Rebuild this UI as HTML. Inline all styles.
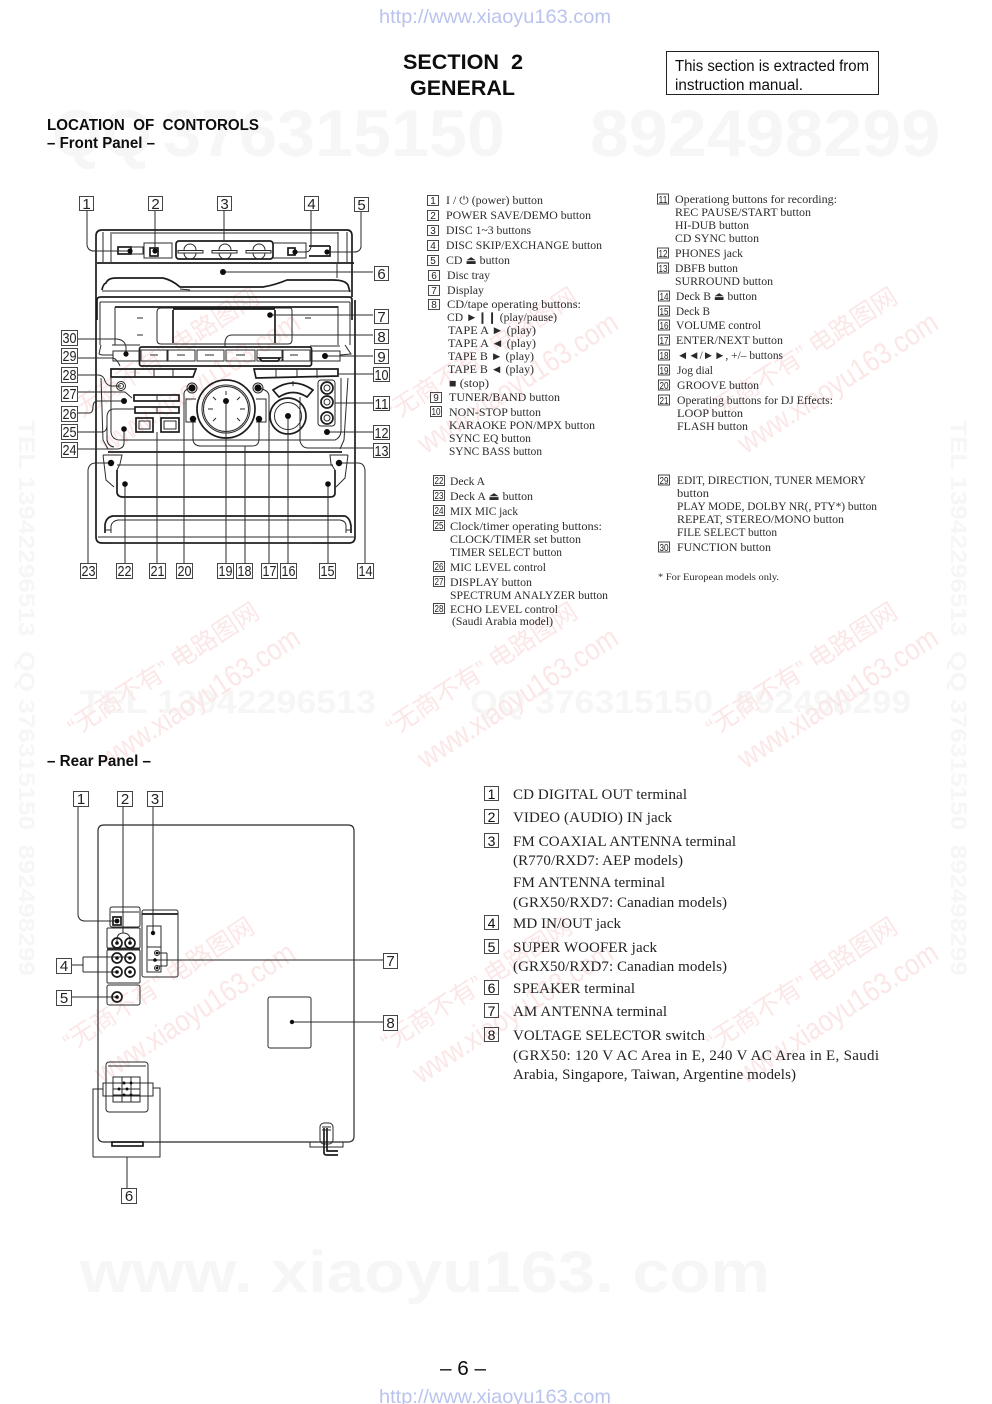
<!DOCTYPE html>
<html lang="en"><head><meta charset="utf-8"><title>Section 2 General</title>
<style>
html,body{margin:0;padding:0;background:#fff;width:992px;height:1404px;overflow:hidden}
svg{display:block}
text{white-space:pre}
.sans{font-family:"Liberation Sans",sans-serif}
.l{font-family:"Liberation Sans",sans-serif;font-size:15px;fill:#222;text-anchor:middle}
.b{fill:#fff;stroke:#444;stroke-width:1}
.d{fill:none;stroke:#2a2a2a;stroke-width:1}
.h{fill:none;stroke:#1a1a1a;stroke-width:1.7}
.k{fill:#111}
.t{font-family:"Liberation Serif","DejaVu Sans",serif;font-size:11.5px;fill:#2c2c2c}
.n{font-family:"Liberation Sans",sans-serif;font-size:10px;fill:#222;text-anchor:middle}
.nb{fill:none;stroke:#333;stroke-width:.9}
.r{font-family:"Liberation Serif",serif;font-size:15px;fill:#222}
.rn{font-family:"Liberation Sans",sans-serif;font-size:14px;fill:#111;text-anchor:middle}
.w1{font-family:"Liberation Sans","Noto Sans CJK SC",sans-serif;font-size:25px;fill:#fce7e7}
.w2{font-family:"Liberation Sans",sans-serif;font-size:30px;fill:#fce7e7}
.g{font-family:"Liberation Sans",sans-serif;font-weight:bold;fill:#f6f6f6}
</style></head><body>
<svg xmlns="http://www.w3.org/2000/svg" width="992" height="1404" viewBox="0 0 992 1404">
<defs><filter id="s" x="-2%" y="-2%" width="104%" height="104%"><feGaussianBlur stdDeviation=".35"/></filter></defs>
<rect width="992" height="1404" fill="#fff"/>

<!-- watermarks -->
<g filter="url(#s)">
<text class="g" x="52" y="156" font-size="66" textLength="100" lengthAdjust="spacingAndGlyphs">QQ</text>
<text class="g" x="163" y="156" font-size="66" textLength="342" lengthAdjust="spacingAndGlyphs">376315150</text>
<text class="g" x="590" y="156" font-size="66" textLength="350" lengthAdjust="spacingAndGlyphs">892498299</text>
<text class="g" x="80" y="713" font-size="32" textLength="296" lengthAdjust="spacingAndGlyphs">TEL 13942296513</text>
<text class="g" x="470" y="713" font-size="32" textLength="243" lengthAdjust="spacingAndGlyphs">QQ 376315150</text>
<text class="g" x="735" y="713" font-size="32" textLength="176" lengthAdjust="spacingAndGlyphs">892498299</text>
<text class="g" x="80" y="1292" font-size="58" textLength="690" lengthAdjust="spacingAndGlyphs">www. xiaoyu163. com</text>
<text class="g" font-size="22" transform="translate(19,420) rotate(90)" textLength="556" lengthAdjust="spacingAndGlyphs">TEL 13942296513  QQ 376315150  892498299</text>
<text class="g" font-size="22" transform="translate(951,420) rotate(90)" textLength="556" lengthAdjust="spacingAndGlyphs">TEL 13942296513  QQ 376315150  892498299</text>

<g transform="translate(75,422) rotate(-33)"><text class="w1" textLength="222" lengthAdjust="spacingAndGlyphs">“无商不有” 电路图网</text><text class="w2" x="10" y="45" textLength="232" lengthAdjust="spacingAndGlyphs">www.xiaoyu163.com</text></g>
<g transform="translate(393,422) rotate(-33)"><text class="w1" textLength="222" lengthAdjust="spacingAndGlyphs">“无商不有” 电路图网</text><text class="w2" x="10" y="45" textLength="232" lengthAdjust="spacingAndGlyphs">www.xiaoyu163.com</text></g>
<g transform="translate(713,422) rotate(-33)"><text class="w1" textLength="222" lengthAdjust="spacingAndGlyphs">“无商不有” 电路图网</text><text class="w2" x="10" y="45" textLength="232" lengthAdjust="spacingAndGlyphs">www.xiaoyu163.com</text></g>
<g transform="translate(75,737) rotate(-33)"><text class="w1" textLength="222" lengthAdjust="spacingAndGlyphs">“无商不有” 电路图网</text><text class="w2" x="10" y="45" textLength="232" lengthAdjust="spacingAndGlyphs">www.xiaoyu163.com</text></g>
<g transform="translate(393,737) rotate(-33)"><text class="w1" textLength="222" lengthAdjust="spacingAndGlyphs">“无商不有” 电路图网</text><text class="w2" x="10" y="45" textLength="232" lengthAdjust="spacingAndGlyphs">www.xiaoyu163.com</text></g>
<g transform="translate(713,737) rotate(-33)"><text class="w1" textLength="222" lengthAdjust="spacingAndGlyphs">“无商不有” 电路图网</text><text class="w2" x="10" y="45" textLength="232" lengthAdjust="spacingAndGlyphs">www.xiaoyu163.com</text></g>
<g transform="translate(70,1052) rotate(-33)"><text class="w1" textLength="222" lengthAdjust="spacingAndGlyphs">“无商不有” 电路图网</text><text class="w2" x="10" y="45" textLength="232" lengthAdjust="spacingAndGlyphs">www.xiaoyu163.com</text></g>
<g transform="translate(388,1052) rotate(-33)"><text class="w1" textLength="222" lengthAdjust="spacingAndGlyphs">“无商不有” 电路图网</text><text class="w2" x="10" y="45" textLength="232" lengthAdjust="spacingAndGlyphs">www.xiaoyu163.com</text></g>
<g transform="translate(713,1052) rotate(-33)"><text class="w1" textLength="222" lengthAdjust="spacingAndGlyphs">“无商不有” 电路图网</text><text class="w2" x="10" y="45" textLength="232" lengthAdjust="spacingAndGlyphs">www.xiaoyu163.com</text></g>
</g>

<!-- header -->
<text class="sans" x="379" y="23" font-size="19" fill="#b9c3ee" textLength="232" lengthAdjust="spacingAndGlyphs">http://www.xiaoyu163.com</text>
<text class="sans" x="379" y="1403" font-size="19" fill="#b9c3ee" textLength="232" lengthAdjust="spacingAndGlyphs">http://www.xiaoyu163.com</text>
<g filter="url(#s)">
<text class="sans" x="403" y="69" font-size="21" font-weight="bold" fill="#111" textLength="120" lengthAdjust="spacingAndGlyphs">SECTION  2</text>
<text class="sans" x="410" y="95" font-size="21" font-weight="bold" fill="#111" textLength="105" lengthAdjust="spacingAndGlyphs">GENERAL</text>
<rect x="666.5" y="51.5" width="212" height="43" fill="none" stroke="#222"/>
<text class="sans" x="675" y="71" font-size="15.5" fill="#111" textLength="194" lengthAdjust="spacingAndGlyphs">This section is extracted from</text>
<text class="sans" x="675" y="90" font-size="15.5" fill="#111" textLength="128" lengthAdjust="spacingAndGlyphs">instruction manual.</text>
<text class="sans" x="47" y="130" font-size="15.5" font-weight="bold" fill="#111" textLength="212" lengthAdjust="spacingAndGlyphs">LOCATION  OF  CONTOROLS</text>
<text class="sans" x="47" y="148" font-size="15.5" font-weight="bold" fill="#111" textLength="108" lengthAdjust="spacingAndGlyphs">– Front Panel –</text>
<text class="sans" x="47" y="766" font-size="15.5" font-weight="bold" fill="#111" textLength="104" lengthAdjust="spacingAndGlyphs">– Rear Panel –</text>
<text class="sans" x="440" y="1375" font-size="20" fill="#111" textLength="46" lengthAdjust="spacingAndGlyphs">– 6 –</text>
</g>

<!-- FRONT PANEL device -->
<g filter="url(#s)">
<g class="d">
<path class="h" d="M96,300V236Q96,230 102,230H347Q352,230 352,236V297"/>
<path d="M112,233H338M103,232V262M111,232V262M338,232V262M347,232V262"/>
<path class="h" d="M97,263H354" stroke-width="2"/>
<path class="h" d="M102,290Q103,284 106,283Q108,278 116,278H163Q172,280 180,287H263Q275,285 287,280H333Q345,280 348,285L350,292"/>
<path d="M102,291H350M337,263V278M180,289L190,290"/>
<rect x="118" y="247" width="13" height="7" class="h"/><path d="M131,247H143V254H131"/>
<path d="M144,243H172V258H144Z"/><rect x="150" y="248" width="8" height="8" class="h"/>
<rect x="176" y="241" width="97" height="18" rx="3" class="h"/>
<path d="M178,250.5H203V253H178ZM212,250.5H237V253H212ZM246,250.5H271V253H246Z"/>
<path d="M184,250A6,6 0 0 1 196,250M184,253A6,6 0 0 0 196,253M219,250A6,6 0 0 1 231,250M219,253A6,6 0 0 0 231,253M253,250A6,6 0 0 1 265,250M253,253A6,6 0 0 0 265,253"/>
<path d="M273,243H306V258H273"/><rect x="288" y="248" width="7" height="7" class="h"/>
<path class="h" d="M309,246H330M309,256H330V246"/>

<path class="h" d="M97,320V300Q97,297 101,297H349Q352,297 352,300V320"/>
<path d="M100,302H350M100,302V345M350,302V345"/>
<path class="h" d="M115,307H338" stroke-width="1.2"/><path d="M115,307V345M338,306V345"/>
<path d="M157,312Q157,308 161,308H290Q292,308 292,311V340Q292,344 288,344H161Q157,344 157,340Z"/>
<path class="h" d="M173,310V343M275,310V343M173,309H275" stroke-width="1.1"/>
<path d="M137,318H143M305,318H311M137,335H143M305,335H311"/>
<path d="M101,345L99,354L102,355H113M112,345H140M310,346H340M345,345L351,354L340,355"/>
<rect x="139.5" y="347" width="172" height="19" rx="2" class="h"/>
<rect x="141" y="350" width="26" height="11"/><rect x="168" y="350" width="27" height="11"/><rect x="197" y="350" width="27" height="11"/><rect x="226" y="350" width="29" height="11"/><rect x="257" y="350" width="25" height="11"/><rect x="283" y="350" width="27" height="11"/>
<path d="M150,355H158M177,355H185M205,355H214M236,355H245M290,355H298"/>
<path class="h" d="M259,358H280L278,361H262Z"/>
<rect x="113" y="351" width="26" height="10"/><rect x="312" y="351" width="28" height="10"/>
<path class="h" d="M111,369H196L193,377H111Z"/><path d="M135,369V377M154,369V377M173,369V377"/>
<path class="h" d="M254,369H338V376L256,378Z"/><path d="M276,369V378M297,369V378M317,369V378"/>

<path class="h" d="M96,300V537Q96,543 102,543H349Q355,543 355,537V300"/>
<path d="M101,378L103,440L108,449M348,378L344,440L340,449"/>
<path d="M111,378V432Q112,440 120,440H335Q340,438 341,432V378"/>
<path class="h" d="M108,452H342"/>

<circle cx="121" cy="386" r="4.5"/><circle cx="121" cy="386" r="2.5"/>
<rect x="134" y="395" width="45" height="6" class="h"/><rect x="135" y="407" width="44" height="6" class="h"/><path d="M157,395V401M157,407V413"/>
<rect x="136" y="418" width="17" height="14" class="h"/><rect x="161" y="418" width="18" height="14" class="h"/>
<path d="M139,421H150V429H139ZM164,421H176V429H164Z"/>
<circle cx="226" cy="409" r="29" class="h"/><circle cx="226" cy="409" r="24"/><circle cx="226" cy="409" r="22.5"/>
<path d="M226,391V395M226,423V427M208,409H213M240,409H245M213,397L216,400M240,397L237,400M213,421L216,418M240,421L237,418"/>
<path d="M196,399H186V422H196M256,399H266V422H256"/>
<circle cx="192" cy="388" r="5"/><circle cx="258" cy="388" r="5"/>
<path class="h" d="M273,390Q293,376 313,390L307,397Q293,388 279,397Z"/><path d="M293,381V386"/>
<circle cx="288" cy="416" r="18" class="h"/><circle cx="288" cy="416" r="13.5"/>
<rect x="318" y="380" width="17" height="46" rx="3"/>
<circle cx="327" cy="388" r="6" class="h"/><circle cx="327" cy="388" r="3"/><circle cx="327" cy="402" r="6" class="h"/><circle cx="327" cy="402" r="3"/><circle cx="327" cy="418" r="6" class="h"/><circle cx="327" cy="418" r="3"/>

<path d="M103,455H122L120,464L117,470M348,455H330L331,464L335,470"/>
<path d="M103,455L106,480L114,487M348,455L345,478L336,487"/>
<path class="h" d="M117,470V493Q118,497 123,497H330Q335,497 335,493V470"/>
<path d="M117,465H333"/>
<path class="h" d="M105,533V525Q106,517 113,516H345Q350,518 351,526V533"/>
<path d="M111,533V526Q112,521 118,520H340Q346,521 346,526V533M98,537H354"/>
<path d="M105,530H111M346,530H351M111,543H312"/>
</g>

<!-- front panel leaders -->
<g class="d">
<path d="M87,211V245Q88,251 94,251H130"/><path d="M155,211V251"/><path d="M224,211V241"/>
<path d="M311,211V247Q310,252 306,252H295"/><path d="M361,212V247Q360,252 354,252H327"/>
<path d="M223,272H373"/><path d="M270,315H373"/>
<path d="M225,347V342Q226,335 232,335H373"/><path d="M325,356H373"/><path d="M338,374H373"/>
<path d="M335,403H373"/><path d="M327,432H373"/><path d="M300,397V441Q302,448 308,448H373"/>
<path d="M77,339H117Q125,340 126,347V354"/><path d="M77,358H113Q117,359 120,366"/>
<path d="M77,375H99Q104,376 105,381Q107,386 112,386H121"/>
<path d="M77,392H125L132,398"/><path d="M77,413H90Q93,412 93,407Q93,401 98,401H124"/>
<path d="M78,432H103Q107,431 107,425V416Q108,409 114,409H135"/>
<path d="M107,425V440Q108,446 114,447"/>
<path d="M77,449H118Q124,448 124,443V429"/>
<path d="M88,563V470Q89,463 96,463H111"/><path d="M365,563V470Q364,463 358,463H339"/>
<path d="M125,484V563"/><path d="M328,484V563"/><path d="M157,432V563"/>
<path d="M184,563V394Q184,389 192,388"/><path d="M226,401V563"/><path d="M245,446V563"/>
<path d="M193,419V440Q194,446 201,446H252Q259,446 259,439V419"/>
<path d="M269,563V396Q269,390 258,388"/><path d="M288,416V563"/>
</g>
<g class="k">
<circle cx="130" cy="251" r="2.6"/><circle cx="155" cy="251" r="2.6"/><circle cx="295" cy="252" r="2.6"/><circle cx="327" cy="252" r="2.6"/><circle cx="223" cy="272" r="3"/><circle cx="270" cy="315" r="2.8"/><circle cx="126" cy="354" r="2.6"/><circle cx="325" cy="356" r="3"/><circle cx="124" cy="401" r="3"/><circle cx="124" cy="429" r="2.8"/><circle cx="192" cy="388" r="3.6"/><circle cx="193" cy="419" r="3.2"/><circle cx="258" cy="388" r="3.6"/><circle cx="259" cy="419" r="3.2"/><circle cx="226" cy="401" r="3"/><circle cx="288" cy="416" r="3"/><circle cx="327" cy="432" r="3"/><circle cx="111" cy="463" r="3.2"/><circle cx="339" cy="463" r="3.2"/><circle cx="125" cy="484" r="2.8"/><circle cx="328" cy="484" r="2.8"/>
</g>

<!-- front labels -->
<g>
<rect class="b" x="79.5" y="196.5" width="14" height="14"/><text class="l" x="86.5" y="209">1</text>
<rect class="b" x="148.5" y="196.5" width="14" height="14"/><text class="l" x="155.5" y="209">2</text>
<rect class="b" x="217.5" y="196.5" width="14" height="14"/><text class="l" x="224.5" y="209">3</text>
<rect class="b" x="304.5" y="196.5" width="14" height="14"/><text class="l" x="311.5" y="209">4</text>
<rect class="b" x="354.5" y="197.5" width="14" height="14"/><text class="l" x="361.5" y="210">5</text>
<rect class="b" x="374.5" y="266.5" width="14" height="14"/><text class="l" x="381.5" y="279">6</text>
<rect class="b" x="374.5" y="309.5" width="14" height="14"/><text class="l" x="381.5" y="322">7</text>
<rect class="b" x="374.5" y="329.5" width="14" height="14"/><text class="l" x="381.5" y="342">8</text>
<rect class="b" x="374.5" y="349.5" width="14" height="14"/><text class="l" x="381.5" y="362">9</text>
<rect class="b" x="373.5" y="367.5" width="16" height="14"/><text class="l" x="381.5" y="380" textLength="14" lengthAdjust="spacingAndGlyphs">10</text>
<rect class="b" x="373.5" y="396.5" width="16" height="14"/><text class="l" x="381.5" y="409" textLength="14" lengthAdjust="spacingAndGlyphs">11</text>
<rect class="b" x="373.5" y="425.5" width="16" height="14"/><text class="l" x="381.5" y="438" textLength="14" lengthAdjust="spacingAndGlyphs">12</text>
<rect class="b" x="373.5" y="443.5" width="16" height="14"/><text class="l" x="381.5" y="456" textLength="14" lengthAdjust="spacingAndGlyphs">13</text>
<rect class="b" x="357.5" y="563.5" width="16" height="15"/><text class="l" x="365.5" y="576" textLength="14" lengthAdjust="spacingAndGlyphs">14</text>
<rect class="b" x="319.5" y="563.5" width="16" height="15"/><text class="l" x="327.5" y="576" textLength="14" lengthAdjust="spacingAndGlyphs">15</text>
<rect class="b" x="280.5" y="563.5" width="16" height="15"/><text class="l" x="288.5" y="576" textLength="14" lengthAdjust="spacingAndGlyphs">16</text>
<rect class="b" x="261.5" y="563.5" width="16" height="15"/><text class="l" x="269.5" y="576" textLength="14" lengthAdjust="spacingAndGlyphs">17</text>
<rect class="b" x="236.5" y="563.5" width="16" height="15"/><text class="l" x="244.5" y="576" textLength="14" lengthAdjust="spacingAndGlyphs">18</text>
<rect class="b" x="217.5" y="563.5" width="16" height="15"/><text class="l" x="225.5" y="576" textLength="14" lengthAdjust="spacingAndGlyphs">19</text>
<rect class="b" x="176.5" y="563.5" width="16" height="15"/><text class="l" x="184.5" y="576" textLength="14" lengthAdjust="spacingAndGlyphs">20</text>
<rect class="b" x="149.5" y="563.5" width="16" height="15"/><text class="l" x="157.5" y="576" textLength="14" lengthAdjust="spacingAndGlyphs">21</text>
<rect class="b" x="116.5" y="563.5" width="16" height="15"/><text class="l" x="124.5" y="576" textLength="14" lengthAdjust="spacingAndGlyphs">22</text>
<rect class="b" x="80.5" y="563.5" width="16" height="15"/><text class="l" x="88.5" y="576" textLength="14" lengthAdjust="spacingAndGlyphs">23</text>
<rect class="b" x="61.5" y="442.5" width="16" height="15"/><text class="l" x="69.5" y="455" textLength="14" lengthAdjust="spacingAndGlyphs">24</text>
<rect class="b" x="61.5" y="424.5" width="16" height="15"/><text class="l" x="69.5" y="437" textLength="14" lengthAdjust="spacingAndGlyphs">25</text>
<rect class="b" x="61.5" y="406.5" width="16" height="15"/><text class="l" x="69.5" y="419" textLength="14" lengthAdjust="spacingAndGlyphs">26</text>
<rect class="b" x="61.5" y="386.5" width="16" height="15"/><text class="l" x="69.5" y="399" textLength="14" lengthAdjust="spacingAndGlyphs">27</text>
<rect class="b" x="61.5" y="367.5" width="16" height="15"/><text class="l" x="69.5" y="380" textLength="14" lengthAdjust="spacingAndGlyphs">28</text>
<rect class="b" x="61.5" y="348.5" width="16" height="15"/><text class="l" x="69.5" y="361" textLength="14" lengthAdjust="spacingAndGlyphs">29</text>
<rect class="b" x="61.5" y="330.5" width="16" height="15"/><text class="l" x="69.5" y="343" textLength="14" lengthAdjust="spacingAndGlyphs">30</text>
</g>
</g>

<!-- front list col 1 -->
<g filter="url(#s)">
<rect class="nb" x="427.5" y="195.5" width="11" height="10"/><text class="n" x="433" y="204">1</text>
<rect class="nb" x="427.5" y="210.5" width="11" height="10"/><text class="n" x="433" y="219">2</text>
<rect class="nb" x="427.5" y="225.5" width="11" height="10"/><text class="n" x="433" y="234">3</text>
<rect class="nb" x="427.5" y="240.5" width="11" height="10"/><text class="n" x="433" y="249">4</text>
<rect class="nb" x="427.5" y="255.5" width="11" height="10"/><text class="n" x="433" y="264">5</text>
<rect class="nb" x="428.5" y="270.5" width="11" height="10"/><text class="n" x="434" y="279">6</text>
<rect class="nb" x="428.5" y="285.5" width="11" height="10"/><text class="n" x="434" y="294">7</text>
<rect class="nb" x="428.5" y="299.5" width="11" height="10"/><text class="n" x="434" y="308">8</text>
<rect class="nb" x="430.5" y="392.5" width="11" height="10"/><text class="n" x="436" y="401">9</text>
<rect class="nb" x="430.5" y="406.5" width="11" height="10"/><text class="n" x="436" y="415" textLength="9" lengthAdjust="spacingAndGlyphs">10</text>
<text class="t" x="446" y="204" textLength="97" lengthAdjust="spacingAndGlyphs">I / ⏻ (power) button</text>
<text class="t" x="446" y="219" textLength="145" lengthAdjust="spacingAndGlyphs">POWER SAVE/DEMO button</text>
<text class="t" x="446" y="234" textLength="85" lengthAdjust="spacingAndGlyphs">DISC 1~3 buttons</text>
<text class="t" x="446" y="249" textLength="156" lengthAdjust="spacingAndGlyphs">DISC SKIP/EXCHANGE button</text>
<text class="t" x="446" y="264" textLength="64" lengthAdjust="spacingAndGlyphs">CD ⏏ button</text>
<text class="t" x="447" y="279" textLength="43" lengthAdjust="spacingAndGlyphs">Disc tray</text>
<text class="t" x="447" y="294" textLength="37" lengthAdjust="spacingAndGlyphs">Display</text>
<text class="t" x="447" y="308" textLength="134" lengthAdjust="spacingAndGlyphs">CD/tape operating buttons:</text>
<text class="t" x="447" y="321" textLength="110" lengthAdjust="spacingAndGlyphs">CD ►❙❙ (play/pause)</text>
<text class="t" x="448" y="334" textLength="88" lengthAdjust="spacingAndGlyphs">TAPE A ► (play)</text>
<text class="t" x="448" y="347" textLength="88" lengthAdjust="spacingAndGlyphs">TAPE A ◄ (play)</text>
<text class="t" x="448" y="360" textLength="86" lengthAdjust="spacingAndGlyphs">TAPE B ► (play)</text>
<text class="t" x="448" y="373" textLength="86" lengthAdjust="spacingAndGlyphs">TAPE B ◄ (play)</text>
<text class="t" x="449" y="387" textLength="40" lengthAdjust="spacingAndGlyphs">■ (stop)</text>
<text class="t" x="449" y="401" textLength="111" lengthAdjust="spacingAndGlyphs">TUNER/BAND button</text>
<text class="t" x="449" y="416" textLength="92" lengthAdjust="spacingAndGlyphs">NON-STOP button</text>
<text class="t" x="449" y="429" textLength="146" lengthAdjust="spacingAndGlyphs">KARAOKE PON/MPX button</text>
<text class="t" x="449" y="442" textLength="82" lengthAdjust="spacingAndGlyphs">SYNC EQ button</text>
<text class="t" x="449" y="455" textLength="93" lengthAdjust="spacingAndGlyphs">SYNC BASS button</text>

<rect class="nb" x="433.5" y="475.5" width="11" height="10"/><text class="n" x="439" y="484" textLength="9" lengthAdjust="spacingAndGlyphs">22</text>
<rect class="nb" x="433.5" y="490.5" width="11" height="10"/><text class="n" x="439" y="499" textLength="9" lengthAdjust="spacingAndGlyphs">23</text>
<rect class="nb" x="433.5" y="505.5" width="11" height="10"/><text class="n" x="439" y="514" textLength="9" lengthAdjust="spacingAndGlyphs">24</text>
<rect class="nb" x="433.5" y="520.5" width="11" height="10"/><text class="n" x="439" y="529" textLength="9" lengthAdjust="spacingAndGlyphs">25</text>
<rect class="nb" x="433.5" y="561.5" width="11" height="10"/><text class="n" x="439" y="570" textLength="9" lengthAdjust="spacingAndGlyphs">26</text>
<rect class="nb" x="433.5" y="576.5" width="11" height="10"/><text class="n" x="439" y="585" textLength="9" lengthAdjust="spacingAndGlyphs">27</text>
<rect class="nb" x="433.5" y="603.5" width="11" height="10"/><text class="n" x="439" y="612" textLength="9" lengthAdjust="spacingAndGlyphs">28</text>
<text class="t" x="450" y="485" textLength="35" lengthAdjust="spacingAndGlyphs">Deck A</text>
<text class="t" x="450" y="500" textLength="83" lengthAdjust="spacingAndGlyphs">Deck A ⏏ button</text>
<text class="t" x="450" y="515" textLength="68" lengthAdjust="spacingAndGlyphs">MIX MIC jack</text>
<text class="t" x="450" y="530" textLength="152" lengthAdjust="spacingAndGlyphs">Clock/timer operating buttons:</text>
<text class="t" x="450" y="543" textLength="131" lengthAdjust="spacingAndGlyphs">CLOCK/TIMER set button</text>
<text class="t" x="450" y="556" textLength="112" lengthAdjust="spacingAndGlyphs">TIMER SELECT button</text>
<text class="t" x="450" y="571" textLength="96" lengthAdjust="spacingAndGlyphs">MIC LEVEL control</text>
<text class="t" x="450" y="586" textLength="82" lengthAdjust="spacingAndGlyphs">DISPLAY button</text>
<text class="t" x="450" y="599" textLength="158" lengthAdjust="spacingAndGlyphs">SPECTRUM ANALYZER button</text>
<text class="t" x="450" y="613" textLength="108" lengthAdjust="spacingAndGlyphs">ECHO LEVEL control</text>
<text class="t" x="452" y="625" textLength="101" lengthAdjust="spacingAndGlyphs">(Saudi Arabia model)</text>

<!-- front list col 2 -->
<rect class="nb" x="657.5" y="194" width="11" height="10"/><text class="n" x="663" y="203" textLength="9" lengthAdjust="spacingAndGlyphs">11</text>
<rect class="nb" x="657.5" y="248" width="11" height="10"/><text class="n" x="663" y="257" textLength="9" lengthAdjust="spacingAndGlyphs">12</text>
<rect class="nb" x="657.5" y="263" width="11" height="10"/><text class="n" x="663" y="272" textLength="9" lengthAdjust="spacingAndGlyphs">13</text>
<rect class="nb" x="658.5" y="291" width="11" height="10"/><text class="n" x="664" y="300" textLength="9" lengthAdjust="spacingAndGlyphs">14</text>
<rect class="nb" x="658.5" y="306" width="11" height="10"/><text class="n" x="664" y="315" textLength="9" lengthAdjust="spacingAndGlyphs">15</text>
<rect class="nb" x="658.5" y="320" width="11" height="10"/><text class="n" x="664" y="329" textLength="9" lengthAdjust="spacingAndGlyphs">16</text>
<rect class="nb" x="658.5" y="335" width="11" height="10"/><text class="n" x="664" y="344" textLength="9" lengthAdjust="spacingAndGlyphs">17</text>
<rect class="nb" x="658.5" y="350" width="11" height="10"/><text class="n" x="664" y="359" textLength="9" lengthAdjust="spacingAndGlyphs">18</text>
<rect class="nb" x="658.5" y="365" width="11" height="10"/><text class="n" x="664" y="374" textLength="9" lengthAdjust="spacingAndGlyphs">19</text>
<rect class="nb" x="658.5" y="380" width="11" height="10"/><text class="n" x="664" y="389" textLength="9" lengthAdjust="spacingAndGlyphs">20</text>
<rect class="nb" x="658.5" y="395" width="11" height="10"/><text class="n" x="664" y="404" textLength="9" lengthAdjust="spacingAndGlyphs">21</text>
<text class="t" x="675" y="203" textLength="162" lengthAdjust="spacingAndGlyphs">Operationg buttons for recording:</text>
<text class="t" x="675" y="216" textLength="136" lengthAdjust="spacingAndGlyphs">REC PAUSE/START button</text>
<text class="t" x="675" y="229" textLength="74" lengthAdjust="spacingAndGlyphs">HI-DUB button</text>
<text class="t" x="675" y="242" textLength="84" lengthAdjust="spacingAndGlyphs">CD SYNC button</text>
<text class="t" x="675" y="257" textLength="68" lengthAdjust="spacingAndGlyphs">PHONES jack</text>
<text class="t" x="675" y="272" textLength="63" lengthAdjust="spacingAndGlyphs">DBFB button</text>
<text class="t" x="675" y="285" textLength="98" lengthAdjust="spacingAndGlyphs">SURROUND button</text>
<text class="t" x="676" y="300" textLength="81" lengthAdjust="spacingAndGlyphs">Deck B ⏏ button</text>
<text class="t" x="676" y="315" textLength="34" lengthAdjust="spacingAndGlyphs">Deck B</text>
<text class="t" x="676" y="329" textLength="85" lengthAdjust="spacingAndGlyphs">VOLUME control</text>
<text class="t" x="676" y="344" textLength="107" lengthAdjust="spacingAndGlyphs">ENTER/NEXT button</text>
<text class="t" x="677" y="359" textLength="106" lengthAdjust="spacingAndGlyphs">◄◄/►►, +/– buttons</text>
<text class="t" x="677" y="374" textLength="36" lengthAdjust="spacingAndGlyphs">Jog dial</text>
<text class="t" x="677" y="389" textLength="82" lengthAdjust="spacingAndGlyphs">GROOVE button</text>
<text class="t" x="677" y="404" textLength="156" lengthAdjust="spacingAndGlyphs">Operating buttons for DJ Effects:</text>
<text class="t" x="677" y="417" textLength="66" lengthAdjust="spacingAndGlyphs">LOOP button</text>
<text class="t" x="677" y="430" textLength="71" lengthAdjust="spacingAndGlyphs">FLASH button</text>

<rect class="nb" x="658.5" y="475" width="11" height="10"/><text class="n" x="664" y="484" textLength="9" lengthAdjust="spacingAndGlyphs">29</text>
<rect class="nb" x="658.5" y="542" width="11" height="10"/><text class="n" x="664" y="551" textLength="9" lengthAdjust="spacingAndGlyphs">30</text>
<text class="t" x="677" y="484" textLength="189" lengthAdjust="spacingAndGlyphs">EDIT, DIRECTION, TUNER MEMORY</text>
<text class="t" x="677" y="497" textLength="32" lengthAdjust="spacingAndGlyphs">button</text>
<text class="t" x="677" y="510" textLength="200" lengthAdjust="spacingAndGlyphs">PLAY MODE, DOLBY NR(, PTY*) button</text>
<text class="t" x="677" y="523" textLength="167" lengthAdjust="spacingAndGlyphs">REPEAT, STEREO/MONO button</text>
<text class="t" x="677" y="536" textLength="100" lengthAdjust="spacingAndGlyphs">FILE SELECT button</text>
<text class="t" x="677" y="551" textLength="94" lengthAdjust="spacingAndGlyphs">FUNCTION button</text>
<text class="t" x="658" y="580" textLength="121" style="font-size:9px" lengthAdjust="spacingAndGlyphs">* For European models only.</text>
</g>

<!-- REAR PANEL -->
<g filter="url(#s)">
<g class="d">
<path d="M98,1136V831Q98,825 104,825H348Q354,825 354,831V1136Q354,1142 348,1142H104Q98,1142 98,1136Z" stroke-width="1.2"/>
<rect x="110" y="907" width="30" height="20" rx="2"/><rect x="113" y="917" width="8" height="8" class="h"/>
<path d="M111,912H139"/>
<rect x="107" y="928" width="33" height="20" rx="1"/><rect x="107" y="950" width="33" height="33" rx="1"/><rect x="107" y="985" width="33" height="20" rx="2"/>
<path d="M107,949H140"/>
<circle cx="117" cy="943" r="5" class="h"/><circle cx="130" cy="943" r="5" class="h"/>
<circle cx="117" cy="958" r="5" class="h"/><circle cx="130" cy="958" r="5" class="h"/>
<circle cx="117" cy="972" r="5" class="h"/><circle cx="130" cy="972" r="5" class="h"/>
<circle cx="117" cy="997" r="5" class="h"/>
<rect x="142" y="910" width="36" height="67" rx="2"/><path class="h" d="M142,914H178"/>
<rect x="147" y="926" width="14" height="46"/><path d="M147,947H161"/>
<circle cx="157" cy="953" r="2.5"/><circle cx="157" cy="968" r="2.5"/>
<rect x="268" y="997" width="43" height="51" rx="2"/>
<rect x="106" y="1062" width="42" height="50" rx="3"/>
<path d="M108,1066H146"/>
<rect x="113" y="1077" width="27" height="25"/>
<path d="M113,1083H140M113,1089H140M113,1095H140M122,1077V1102M131,1077V1102"/>
<rect x="103" y="1083" width="50" height="13"/>
<path d="M93,1157V1089H103M153,1088H160V1157H93"/>
<rect x="112" y="1142" width="31" height="4" class="h"/>
<path d="M310,1142V1147H343V1142"/>
<rect x="320" y="1123" width="13" height="21" rx="4"/>
<path class="h" d="M324,1128V1153Q324,1155 327,1155H338M327,1128V1151H338"/>
<path d="M322,1127H331M322,1130H331"/>
</g>
<g class="d">
<path d="M78,807V915Q79,921 85,921H117"/>
<path d="M123,807V933M117,943V938Q118,933 123,933Q129,933 130,938V943"/>
<path d="M153,807V933"/>
<path d="M72,965H83M83,957V972M83,957H117M83,972H117M117,957H130"/>
<path d="M72,997H117"/>
<path d="M383,960H167M167,953V966M167,953H157M167,966H157M167,960H148"/>
<path d="M292,1022H383"/>
<path d="M127,1157V1188"/>
</g>
<g class="k">
<circle cx="117" cy="921" r="2.4"/><circle cx="117" cy="943" r="1.8"/><circle cx="130" cy="943" r="1.8"/><circle cx="117" cy="958" r="1.8"/><circle cx="130" cy="958" r="1.8"/><circle cx="117" cy="972" r="1.8"/><circle cx="130" cy="972" r="1.8"/><circle cx="117" cy="997" r="1.8"/><circle cx="153" cy="933" r="2.2"/><circle cx="155" cy="960" r="1.8"/><circle cx="157" cy="953" r="1.4"/><circle cx="157" cy="968" r="1.4"/><circle cx="292" cy="1022" r="2.2"/><circle cx="124" cy="1083" r="1.5"/><circle cx="131" cy="1083" r="1.5"/><circle cx="119" cy="1089" r="1.5"/><circle cx="127" cy="1089" r="1.5"/><circle cx="124" cy="1095" r="1.5"/><circle cx="131" cy="1095" r="1.5"/>
</g>
<g>
<rect class="b" x="73.5" y="791.5" width="15" height="15"/><text class="l" x="81" y="804">1</text>
<rect class="b" x="117.5" y="791.5" width="15" height="15"/><text class="l" x="125" y="804">2</text>
<rect class="b" x="147.5" y="791.5" width="15" height="15"/><text class="l" x="155" y="804">3</text>
<rect class="b" x="56.5" y="958.5" width="15" height="15"/><text class="l" x="64" y="971">4</text>
<rect class="b" x="56.5" y="990.5" width="15" height="15"/><text class="l" x="64" y="1003">5</text>
<rect class="b" x="383.5" y="953.5" width="14" height="15"/><text class="l" x="390.5" y="966">7</text>
<rect class="b" x="383.5" y="1015.5" width="14" height="15"/><text class="l" x="390.5" y="1028">8</text>
<rect class="b" x="121.5" y="1188.5" width="15" height="15"/><text class="l" x="129" y="1201">6</text>
</g>

<!-- rear list -->
<g>
<rect class="nb" x="484.5" y="786.5" width="14" height="14"/><text class="rn" x="491.5" y="799">1</text>
<rect class="nb" x="484.5" y="809.5" width="14" height="14"/><text class="rn" x="491.5" y="822">2</text>
<rect class="nb" x="484.5" y="833.5" width="14" height="14"/><text class="rn" x="491.5" y="846">3</text>
<rect class="nb" x="484.5" y="915.5" width="14" height="14"/><text class="rn" x="491.5" y="928">4</text>
<rect class="nb" x="484.5" y="939.5" width="14" height="14"/><text class="rn" x="491.5" y="952">5</text>
<rect class="nb" x="484.5" y="980.5" width="14" height="14"/><text class="rn" x="491.5" y="993">6</text>
<rect class="nb" x="484.5" y="1003.5" width="14" height="14"/><text class="rn" x="491.5" y="1016">7</text>
<rect class="nb" x="484.5" y="1027.5" width="14" height="14"/><text class="rn" x="491.5" y="1040">8</text>
<text class="r" x="513" y="799" textLength="174" lengthAdjust="spacing">CD DIGITAL OUT terminal</text>
<text class="r" x="513" y="822" textLength="159" lengthAdjust="spacing">VIDEO (AUDIO) IN jack</text>
<text class="r" x="513" y="846" textLength="223" lengthAdjust="spacing">FM COAXIAL ANTENNA terminal</text>
<text class="r" x="513" y="865" textLength="170" lengthAdjust="spacing">(R770/RXD7: AEP models)</text>
<text class="r" x="513" y="887" textLength="152" lengthAdjust="spacing">FM ANTENNA terminal</text>
<text class="r" x="513" y="907" textLength="214" lengthAdjust="spacing">(GRX50/RXD7: Canadian models)</text>
<text class="r" x="513" y="928" textLength="108" lengthAdjust="spacing">MD IN/OUT jack</text>
<text class="r" x="513" y="952" textLength="144" lengthAdjust="spacing">SUPER WOOFER jack</text>
<text class="r" x="513" y="971" textLength="214" lengthAdjust="spacing">(GRX50/RXD7: Canadian models)</text>
<text class="r" x="513" y="993" textLength="122" lengthAdjust="spacing">SPEAKER terminal</text>
<text class="r" x="513" y="1016" textLength="154" lengthAdjust="spacing">AM ANTENNA terminal</text>
<text class="r" x="513" y="1040" textLength="192" lengthAdjust="spacing">VOLTAGE SELECTOR switch</text>
<text class="r" x="513" y="1060" textLength="366" lengthAdjust="spacing">(GRX50: 120 V AC Area in E, 240 V AC Area in E, Saudi</text>
<text class="r" x="513" y="1079" textLength="283" lengthAdjust="spacing">Arabia, Singapore, Taiwan, Argentine models)</text>
</g>
</g>
</svg>
</body></html>
